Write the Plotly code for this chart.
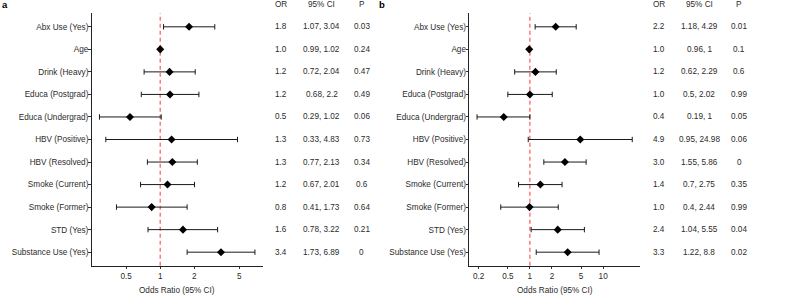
import math
import plotly.graph_objects as go

# ---------------- data ----------------
labels = ["Abx Use (Yes)", "Age", "Drink (Heavy)", "Educa (Postgrad)", "Educa (Undergrad)",
          "HBV (Positive)", "HBV (Resolved)", "Smoke (Current)", "Smoke (Former)",
          "STD (Yes)", "Substance Use (Yes)"]

# panel a
a_point = [1.80, 1.00, 1.21, 1.22, 0.54, 1.26, 1.28, 1.16, 0.84, 1.59, 3.45]
a_lo = [1.07, 0.99, 0.72, 0.68, 0.29, 0.33, 0.77, 0.67, 0.41, 0.78, 1.73]
a_hi = [3.04, 1.02, 2.04, 2.2, 1.02, 4.83, 2.13, 2.01, 1.73, 3.22, 6.89]
a_or_txt = ["1.8", "1.0", "1.2", "1.2", "0.5", "1.3", "1.3", "1.2", "0.8", "1.6", "3.4"]
a_p = [0.03, 0.24, 0.47, 0.49, 0.06, 0.73, 0.34, 0.6, 0.64, 0.21, 0]
a_ticks = [0.5, 1, 2, 5]

# panel b
b_point = [2.25, 0.98, 1.19, 1.00, 0.44, 4.87, 3.01, 1.39, 0.99, 2.40, 3.28]
b_lo = [1.18, 0.96, 0.62, 0.5, 0.19, 0.95, 1.55, 0.7, 0.4, 1.04, 1.22]
b_hi = [4.29, 1, 2.29, 2.02, 1, 24.98, 5.86, 2.75, 2.44, 5.55, 8.8]
b_or_txt = ["2.2", "1.0", "1.2", "1.0", "0.4", "4.9", "3.0", "1.4", "1.0", "2.4", "3.3"]
b_p = [0.01, 0.1, 0.6, 0.99, 0.05, 0.06, 0, 0.35, 0.99, 0.04, 0.02]
b_ticks = [0.2, 0.5, 1, 2, 5, 10]

headers = ["OR", "95% CI", "P"]
x_title = "Odds Ratio (95% CI)"

# ---------------- layout constants ----------------
W, H = 799, 295
FONT = "Liberation Sans, Arial, sans-serif"
FS = 8.2
TXT = "#2b2b2b"
rows = list(range(len(labels)))

def px(x):
    return x / W

def py(y):
    return 1 - y / H

panels = [
    dict(pt=a_point, lo=a_lo, hi=a_hi, ortxt=a_or_txt, p=a_p, ticks=a_ticks,
         dom=[px(91.7), px(262.7)], cols=[281, 321.7, 361.7], tag="a", tagx=4.5),
    dict(pt=b_point, lo=b_lo, hi=b_hi, ortxt=b_or_txt, p=b_p, ticks=b_ticks,
         dom=[px(469.3), px(640)], cols=[659, 699, 739.3], tag="b", tagx=381.5),
]

fig = go.Figure()
annotations = []
shapes = []
ydom = [py(265.7), py(13.3)]

for i, pn in enumerate(panels):
    xa = "x" if i == 0 else "x2"
    ya = "y" if i == 0 else "y2"
    fig.add_trace(go.Scatter(
        x=pn["pt"], y=rows, xaxis=xa, yaxis=ya, mode="markers",
        marker=dict(symbol="diamond", size=6.2, color="black"),
        error_x=dict(type="data", symmetric=False,
                     array=[h - m for h, m in zip(pn["hi"], pn["pt"])],
                     arrayminus=[m - l for m, l in zip(pn["pt"], pn["lo"])],
                     color="#1a1a1a", thickness=1, width=2.7),
        showlegend=False, hoverinfo="skip"))

    lmin = math.log10(min(pn["lo"]))
    lmax = math.log10(max(pn["hi"]))
    pad = 0.05 * (lmax - lmin)
    axis_common = dict(showline=True, linecolor="#222", linewidth=1, ticks="outside",
                       ticklen=2.7, tickcolor="#333", tickwidth=1, showgrid=False,
                       zeroline=False, tickfont=dict(family=FONT, size=FS, color=TXT))
    xkey = "xaxis" if i == 0 else "xaxis2"
    ykey = "yaxis" if i == 0 else "yaxis2"
    fig.update_layout(**{
        xkey: dict(type="log", domain=pn["dom"], range=[lmin - pad, lmax + pad],
                   tickvals=pn["ticks"], ticktext=[f"{t:g}" for t in pn["ticks"]],
                   anchor=ya, **axis_common),
        ykey: dict(domain=ydom, range=[len(labels) - 0.4, -0.6], tickvals=rows,
                   ticktext=labels, anchor=xa, ticklabelstandoff=-2, **axis_common),
    })

    # reference line at OR = 1
    shapes.append(dict(type="line", xref=xa, yref=f"{ya} domain", x0=1, x1=1, y0=0, y1=1,
                       line=dict(color="#FF6F6F", width=1.4, dash="4px,3px"), layer="below"))

    # table
    ci_txt = [f"{l:g}, {h:g}" for l, h in zip(pn["lo"], pn["hi"])]
    p_txt = [f"{v:g}" for v in pn["p"]]
    for col, txts in zip(pn["cols"], [pn["ortxt"], ci_txt, p_txt]):
        for r, t in zip(rows, txts):
            annotations.append(dict(x=px(col), xref="paper", y=r, yref=ya, text=t,
                                    showarrow=False, xanchor="center", yanchor="middle",
                                    font=dict(family=FONT, size=FS, color=TXT)))
    for col, h in zip(pn["cols"], headers):
        annotations.append(dict(x=px(col), xref="paper", y=py(4.8), yref="paper", text=h,
                                showarrow=False, xanchor="center", yanchor="middle",
                                font=dict(family=FONT, size=FS, color=TXT)))
    # axis title
    annotations.append(dict(x=(pn["dom"][0] + pn["dom"][1]) / 2, xref="paper", y=py(290),
                            yref="paper", text=x_title, showarrow=False, xanchor="center",
                            yanchor="middle", font=dict(family=FONT, size=FS, color=TXT)))
    # panel tag
    annotations.append(dict(x=px(pn["tagx"]), xref="paper", y=py(4.5), yref="paper",
                            text=f"<b>{pn['tag']}</b>", showarrow=False, xanchor="center",
                            yanchor="middle", font=dict(family=FONT, size=9.5, color="black")))

fig.update_layout(width=W, height=H, margin=dict(l=0, r=0, t=0, b=0),
                  paper_bgcolor="white", plot_bgcolor="white",
                  annotations=annotations, shapes=shapes,
                  font=dict(family=FONT, size=FS, color=TXT))

fig.write_html("out.html", config={"displayModeBar": False},
               post_script="document.body.style.margin='0';document.body.style.overflow='hidden';")
